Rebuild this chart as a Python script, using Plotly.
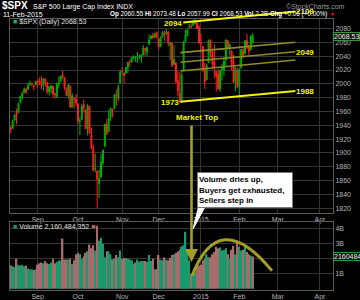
import plotly.graph_objects as go
import pandas as pd

# ---------------- data ----------------
holidays = ["2014-09-01", "2014-11-27", "2014-12-25", "2015-01-01", "2015-01-19"]
dates = pd.bdate_range("2014-08-12", "2015-02-11", freq="C", holidays=holidays).strftime("%Y-%m-%d").tolist()

opens = [1936.3,1935.6,1947.4,1958.9,1958.4,1972.7,1980.5,1986.8,1992.6,1991.7,1998.6,2000.5,1997.4,1998.5,
 2004.1,2003.6,2001.7,1998.0,2007.2,2002.3,1988.4,1992.9,1996.7,1986.0,1981.9,1999.3,2003.1,2012.7,2009.1,1992.8,1983.3,1997.3,1966.2,1979.0,1978.2,
 1971.4,1945.8,1948.1,1970.0,1962.4,1935.6,1967.7,1925.6,1905.7,1877.1,1874.2,1856.0,1864.9,1885.6,1909.4,1941.3,1931.0,1951.6,1963.0,1964.1,1983.3,1979.5,2001.2,
 2018.2,2015.8,2015.3,2023.3,2032.0,2032.0,2038.2,2037.8,2039.2,2039.7,2038.3,2041.5,2051.2,2045.9,2057.5,2065.1,2070.2,2067.4,2074.8,
 2065.8,2053.8,2067.5,2073.6,2072.8,2074.8,2056.6,2058.9,2027.9,2030.4,2005.0,1986.7,1973.8,2019.0,2061.0,2069.3,2081.5,2083.3,2084.3,2087.6,2088.5,2082.1,
 2058.9,2054.4,2022.2,2005.6,2030.6,2063.5,2046.1,2031.6,2018.4,2013.8,1992.3,2020.8,2020.2,2034.3,2063.0,2050.4,2047.9,2032.3,2002.5,2019.4,
 1996.7,2022.7,2048.9,2043.5,2062.3,2053.5,2049.4,2060.55]
highs = [1939.4,1948.4,1955.2,1964.0,1972.0,1982.6,1988.6,1994.8,1993.5,2002.0,2005.0,2002.1,1998.5,2004.3,
 2006.1,2009.3,2011.2,2007.8,2007.2,2002.3,1996.7,1997.7,1996.7,1987.2,2002.3,2010.7,2012.3,2019.3,2009.1,1995.4,1999.8,1997.3,1986.4,1981.3,1985.2,
 1971.4,1952.3,1971.2,1977.4,1962.4,1970.4,1967.7,1937.0,1912.1,1898.7,1874.2,1876.0,1898.2,1905.0,1942.5,1949.3,1962.0,1965.3,1964.6,1985.1,1991.4,1999.4,2018.2,
 2024.5,2016.0,2023.8,2031.6,2034.3,2038.7,2041.3,2040.3,2046.2,2042.2,2043.1,2056.1,2052.1,2053.8,2071.5,2070.2,2074.2,2073.3,2075.8,
 2065.8,2068.8,2076.3,2077.3,2079.5,2075.8,2060.6,2058.9,2055.5,2030.4,2018.7,2016.9,2016.8,2061.2,2077.9,2078.8,2086.7,2087.6,2092.7,2093.55,2088.5,2085.6,
 2072.4,2054.4,2030.3,2029.6,2064.1,2064.4,2049.3,2056.9,2018.4,2021.4,2020.5,2028.9,2038.3,2064.6,2063.0,2057.6,2047.9,2042.5,2024.6,2023.3,
 2021.7,2050.3,2054.7,2063.6,2072.4,2056.2,2070.9,2073.48]
lows = [1928.3,1935.6,1947.4,1941.5,1958.4,1972.7,1977.7,1986.8,1984.8,1991.7,1998.6,1996.2,1990.5,1998.5,
 1994.9,1998.1,1992.4,1990.1,1995.6,1985.2,1983.0,1985.9,1980.3,1978.5,1979.1,1993.3,2003.1,2006.6,1991.0,1982.4,1978.6,1965.9,1966.2,1964.0,1968.0,
 1941.7,1926.0,1948.1,1958.4,1935.1,1925.3,1927.6,1906.1,1874.1,1871.8,1820.7,1835.0,1864.9,1882.3,1909.4,1927.1,1931.0,1946.3,1951.4,1964.1,1969.0,1974.8,2001.2,
 2013.7,2001.0,2015.3,2015.9,2025.1,2030.2,2035.3,2031.3,2030.4,2035.2,2030.2,2041.5,2040.4,2040.5,2056.8,2065.1,2064.8,2066.6,2065.1,
 2049.6,2053.8,2066.7,2062.3,2070.8,2054.3,2034.2,2024.3,2027.9,2002.3,1982.3,1972.56,1973.8,2019.0,2061.0,2069.3,2079.8,2081.9,2084.3,2085.8,2079.5,2057.9,
 2046.0,2017.3,1992.4,2005.6,2030.6,2038.3,2022.6,2008.3,1988.4,1991.5,1988.1,2004.5,2012.0,2026.4,2050.5,2041.0,2019.9,2001.5,1989.2,1993.4,
 1980.9,2022.7,2036.7,2043.5,2050.0,2041.9,2048.6,2057.99]
closes = [1933.75,1946.72,1955.18,1955.06,1971.74,1981.60,1986.51,1992.37,1988.40,1997.92,2000.02,2000.12,1996.74,2003.37,
 2002.28,2000.72,1997.65,2007.71,2001.54,1988.44,1995.69,1997.45,1985.54,1984.13,1998.98,2001.57,2011.36,2010.40,1994.29,1982.77,1998.30,1965.99,1982.85,1977.80,1972.29,
 1946.16,1946.17,1967.90,1964.82,1935.10,1968.89,1928.21,1906.13,1874.74,1877.70,1862.49,1862.76,1886.76,1904.01,1941.28,1927.11,1950.82,1964.58,1961.63,1985.05,1982.30,1994.65,2018.05,
 2017.81,2012.10,2023.57,2031.21,2031.92,2038.26,2039.68,2038.25,2039.33,2039.82,2041.32,2051.80,2048.72,2052.75,2063.50,2069.41,2067.03,2072.83,2067.56,
 2053.44,2066.55,2074.33,2071.92,2075.37,2060.31,2059.82,2026.14,2035.33,2002.33,1989.63,1972.74,2012.89,2061.23,2070.65,2078.54,2082.17,2081.88,2088.77,2090.57,2080.35,2058.90,
 2058.20,2020.58,2002.61,2025.90,2062.14,2044.81,2028.26,2023.03,2011.27,1992.67,2019.42,2022.55,2032.12,2063.15,2051.82,2057.09,2029.55,2002.16,2021.25,1994.99,
 2020.85,2050.03,2041.51,2062.52,2055.47,2046.74,2068.59,2068.53]
volumes_b = [1.55,1.5,1.45,2.0,1.6,1.55,1.6,1.5,1.55,1.35,1.3,1.3,1.25,1.3,
 1.6,1.7,1.75,1.7,1.85,1.7,1.65,1.75,2.0,1.7,1.8,1.9,1.85,3.35,1.95,1.95,1.95,2.0,1.65,1.9,2.3,
 2.4,2.3,2.0,2.15,2.4,2.5,2.95,2.7,2.9,2.55,4.2,3.2,3.4,3.0,2.1,2.5,2.5,2.3,1.95,2.0,2.25,2.1,2.55,
 2.0,2.05,2.05,2.0,1.95,1.9,1.65,1.75,1.95,1.8,1.85,1.85,1.85,1.8,2.25,1.85,2.0,1.3,1.3,
 2.25,1.95,1.9,2.1,1.95,1.9,2.05,2.25,2.3,2.4,2.5,2.6,2.8,2.9,3.8,2.6,1.9,0.95,0.95,1.1,1.5,1.55,
 1.6,1.9,2.0,2.3,2.1,2.1,2.3,2.45,2.8,2.7,2.75,2.55,2.6,2.7,2.3,2.0,2.6,2.85,2.3,3.1,
 2.8,2.55,2.6,2.8,2.45,2.3,2.2,2.16]

month_tick_idx = [14, 35, 58, 77, 99, 119, 139, 161]
month_tick_text = ["Sep", "Oct", "Nov", "Dec", "2015", "Feb", "Mar", "Apr"]
price_ticks = list(range(1820, 2081, 20))
vol_ticks = [1, 2, 3, 4]
vol_tick_text = ["1B", "2B", "3B", "4B"]

# annotation levels (price) drawn by the chart author
channel_lines = [(88.3, 2045.1, 148.2, 2060.1), (88.3, 2031.2, 148.2, 2046.5), (88.3, 2018.6, 148.2, 2034.5)]
support_line = (88.3, 1974.2, 148.2, 1989.7)
resist_line = (89.8, 2088.7, 148.2, 2104.6)

# ---------------- geometry ----------------
W, H = 360, 300
ML, MR, MT, MB = 10, 27, 19, 10
PW, PH = W - ML - MR, H - MT - MB
Y_MAIN = [1813.2, 2093.8]
Y_VOL = [-0.08, 4.45]
DOM_MAIN = [(290 - 213) / PH, 1.0]
DOM_VOL = [0.0, (290 - 222) / PH]
X_RANGE = [-0.4, 167.8]

def PX(x):
    return (x - ML) / PW

def PY(y):
    return (H - MB - y) / PH

def price_to_paper(p):
    return DOM_MAIN[0] + (p - Y_MAIN[0]) / (Y_MAIN[1] - Y_MAIN[0]) * (DOM_MAIN[1] - DOM_MAIN[0])

idx = list(range(len(closes)))
GREEN_V, PINK_V = "#1a9a6c", "#a76b6b"
vol_colors = []
for i in range(len(closes)):
    prev = closes[i - 1] if i > 0 else opens[0]
    vol_colors.append(GREEN_V if closes[i] >= prev else PINK_V)

fig = go.Figure()
fig.add_trace(go.Candlestick(
    x=idx, open=opens, high=highs, low=lows, close=closes,
    text=dates, xaxis="x", yaxis="y", whiskerwidth=0,
    increasing=dict(line=dict(color="#00b400", width=1), fillcolor="#007c00"),
    decreasing=dict(line=dict(color="#ff2020", width=1), fillcolor="#ff2020"),
    showlegend=False))
fig.add_trace(go.Bar(x=idx, y=volumes_b, marker=dict(color=vol_colors, line=dict(width=0)),
                     xaxis="x2", yaxis="y2", showlegend=False))

FONT = "Liberation Sans, Arial, sans-serif"
GRID = "#343434"
LINE = "#5a5a5a"
TICKC = "#b4b4b4"
axis_common = dict(showgrid=True, gridcolor=GRID, gridwidth=1, zeroline=False, automargin=False,
                   showline=True, linecolor=LINE, linewidth=1, mirror=True, ticks="",
                   tickfont=dict(family=FONT, size=7, color=TICKC))

fig.update_layout(
    width=W, height=H, margin=dict(l=ML, r=MR, t=MT, b=MB, autoexpand=False),
    paper_bgcolor="black", plot_bgcolor="black", bargap=0.25,
    xaxis=dict(domain=[0, 1], range=X_RANGE, anchor="y", tickvals=month_tick_idx, ticktext=month_tick_text,
               rangeslider=dict(visible=False), **axis_common),
    xaxis2=dict(domain=[0, 1], range=X_RANGE, anchor="y2", matches="x", tickvals=month_tick_idx,
                ticktext=month_tick_text, **axis_common),
    yaxis=dict(domain=DOM_MAIN, range=Y_MAIN, side="right", tickvals=price_ticks, anchor="x", **axis_common),
    yaxis2=dict(domain=DOM_VOL, range=Y_VOL, side="right", tickvals=vol_ticks, ticktext=vol_tick_text,
                anchor="x2", **axis_common),
)

YEL = "#f2f200"
OLIVE = "#a29e26"
shapes = []
for (x0, y0, x1, y1) in channel_lines:
    shapes.append(dict(type="line", xref="x", yref="y", x0=x0, y0=y0, x1=x1, y1=y1,
                       line=dict(color="#8e8b26", width=1.6)))
x0, y0, x1, y1 = support_line
shapes.append(dict(type="line", xref="x", yref="y", x0=x0, y0=y0, x1=x1, y1=y1, line=dict(color=YEL, width=2)))
x0, y0, x1, y1 = resist_line
shapes.append(dict(type="line", xref="x", yref="paper", x0=x0, y0=price_to_paper(y0), x1=x1,
                   y1=price_to_paper(y1), line=dict(color=YEL, width=2)))
# arc over the volume
shapes.append(dict(type="path", xref="x2", yref="y2", path="M 94.4,0.87 Q 108.4,5.5 136,1.2",
                   line=dict(color=OLIVE, width=3)))
# callout tail
shapes.append(dict(type="path", xref="paper", yref="paper",
                   path=f"M {PX(199)},{PY(205)} L {PX(206)},{PY(205)} L {PX(193)},{PY(229)} Z",
                   fillcolor="white", line=dict(color="white", width=1)))
fig.update_layout(shapes=shapes)

ann = []
def txt(x, y, s, size=7, color="white", xanchor="left", bold=False, family=FONT):
    ann.append(dict(xref="paper", yref="paper", x=PX(x), y=PY(y), text=(f"<b>{s}</b>" if bold else s),
                    showarrow=False, xanchor=xanchor, yanchor="middle",
                    font=dict(family=family, size=size, color=color), borderpad=0))

# header
txt(1, 6, "$SPX", size=10, bold=True)
txt(32, 6.5, "S&amp;P 500 Large Cap Index INDX", size=7)
txt(346, 6.5, "©StockCharts.com", size=7, color="#9a9a9a", xanchor="right")
txt(2, 14.5, "11-Feb-2015", size=7)
txt(328, 14.5, "<b>Op</b> 2060.55 <b>Hi</b> 2073.48 <b>Lo</b> 2057.99 <b>Cl</b> 2068.53 <b>Vol</b> 2.2B <b>Chg</b> +0.06 (+0.00%)",
    size=6.3, xanchor="right")
txt(329, 14.5, "▼", size=5, color="#ff2020")
# panel legends
txt(12, 22, "<span style='color:#1fb060'>■</span> $SPX (Daily) 2068.53", size=7, color="#e0e0e0")
txt(12, 226, "<span style='color:#1a9a6c'>■</span> Volume 2,160,484,352 <span style='color:#a76b6b'>■</span>",
    size=7, color="#e0e0e0")
# author labels
txt(183, 23, "2094", size=8, color=YEL, bold=True, xanchor="right")
txt(295, 12, "2109", size=8, color=YEL, bold=True)
txt(295, 52.5, "2049", size=8, color=YEL, bold=True)
txt(295, 91.5, "1988", size=8, color=YEL, bold=True)
txt(180, 102.5, "1973", size=8, color=YEL, bold=True, xanchor="right")
txt(197, 117.5, "Market Top", size=8, color=YEL, bold=True, xanchor="center")

# vertical arrow
ann.append(dict(xref="paper", yref="paper", x=PX(191.5), y=PY(262), ax=0, ay=-138, text="",
                showarrow=True, arrowhead=2, arrowsize=1.0, arrowwidth=2.6, arrowcolor=OLIVE))
# callout box
ann.append(dict(xref="paper", yref="paper", x=PX(197), y=PY(172), xanchor="left", yanchor="top",
                text="<b>Volume dries up,<br>Buyers get exhausted,<br>Sellers step in</b>", align="left",
                showarrow=False, bgcolor="white", bordercolor="#777", borderwidth=1, borderpad=1,
                width=92, height=32, font=dict(family=FONT, size=8, color="black")))
# last value boxes on right axis
ann.append(dict(xref="paper", yref="y", x=1.0, y=closes[-1], xanchor="left", yanchor="middle",
                text="2068.53", showarrow=False, bgcolor="#111", bordercolor="#2f9a2f", borderwidth=1,
                borderpad=0, font=dict(family=FONT, size=7, color="#e8e8e8")))
ann.append(dict(xref="paper", yref="y2", x=1.0, y=volumes_b[-1], xanchor="left", yanchor="middle",
                text="2160484352", showarrow=False, bgcolor="#111", bordercolor="#2f9a2f", borderwidth=1,
                borderpad=0, font=dict(family=FONT, size=7, color="#e8e8e8")))
fig.update_layout(annotations=ann)

fig.write_html("out.html")
